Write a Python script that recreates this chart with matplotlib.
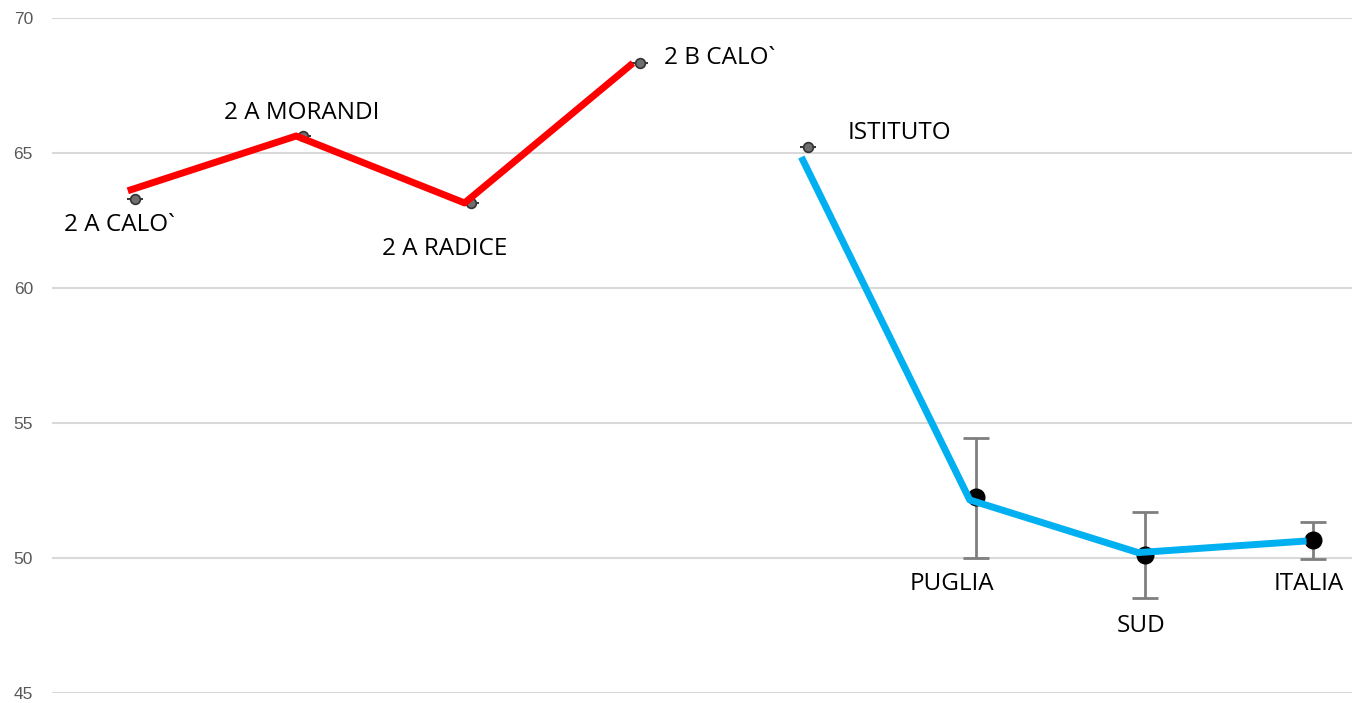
import matplotlib
matplotlib.use("Agg")
import matplotlib.pyplot as plt
import numpy as np

categories = ["2 A CALO`", "2 A MORANDI", "2 A RADICE", "2 B CALO`",
              "ISTITUTO", "PUGLIA", "SUD", "ITALIA"]
values = [63.3, 65.63, 63.15, 68.33, 65.22, 52.26, 50.11, 50.67]
err_low = [0, 0, 0, 0, 0, 2.26, 1.59, 0.71]
err_high = [0, 0, 0, 0, 0, 2.18, 1.59, 0.66]

red_line = [63.6, 65.63, 63.15, 68.33]      # classes
blue_line = [64.85, 52.15, 50.2, 50.63]     # istituto / benchmarks
yticks = [45, 50, 55, 60, 65, 70]

fig = plt.figure(figsize=(13.52, 7.03), dpi=100)
ax = fig.add_axes([52/1352, 10/703, 1300/1352, 675/703])
x = np.arange(len(categories))

ax.set_xlim(-0.49, 7.23)
ax.set_ylim(45, 70)
ax.set_yticks(yticks)
ax.set_xticks([])
for s in ax.spines.values():
    s.set_visible(False)
ax.grid(axis="y", color="#d9d9d9", linewidth=1.5)
ax.set_axisbelow(True)
ax.tick_params(axis="y", length=0, pad=13.7, labelsize=12.5, labelcolor="#595959")
for lab in ax.get_yticklabels():
    lab.set_fontfamily("Liberation Sans")

# small markers for the first five
ax.errorbar(x[:5], values[:5], yerr=[err_low[:5], err_high[:5]], fmt="o",
            markersize=7, markerfacecolor="#6e6e6e", markeredgecolor="#333333",
            markeredgewidth=1.2, ecolor="#333333", capsize=6, capthick=1.5,
            zorder=3)
# big markers with error bars for the benchmarks
ax.errorbar(x[5:], values[5:], yerr=[err_low[5:], err_high[5:]], fmt="o",
            markersize=12, color="black", ecolor="#7f7f7f", elinewidth=2,
            capsize=9.5, capthick=2, zorder=3)

ax.plot(x[:4] - 0.04, red_line, color="#ff0000", linewidth=5,
        solid_capstyle="butt", zorder=4)
ax.plot(x[4:] - 0.04, blue_line, color="#00b0f0", linewidth=5,
        solid_capstyle="butt", zorder=4)

# label offsets in pixels from the marker
label_offsets = [(-15, -26, "center"), (-1, 23, "center"), (-27, -46, "center"),
                 (24, 5, "left"), (40, 14, "left"), (-25, -87, "center"),
                 (-4, -71, "center"), (-5, -44, "center")]
for xi, v, name, (dx, dy, ha) in zip(x, values, categories, label_offsets):
    ax.annotate(name, (xi, v), xytext=(dx * 0.72, dy * 0.72),
                textcoords="offset points", ha=ha, va="center",
                fontsize=17.5, fontfamily="Open Sans", color="black", zorder=5)

fig.savefig("out.png", dpi=100)
